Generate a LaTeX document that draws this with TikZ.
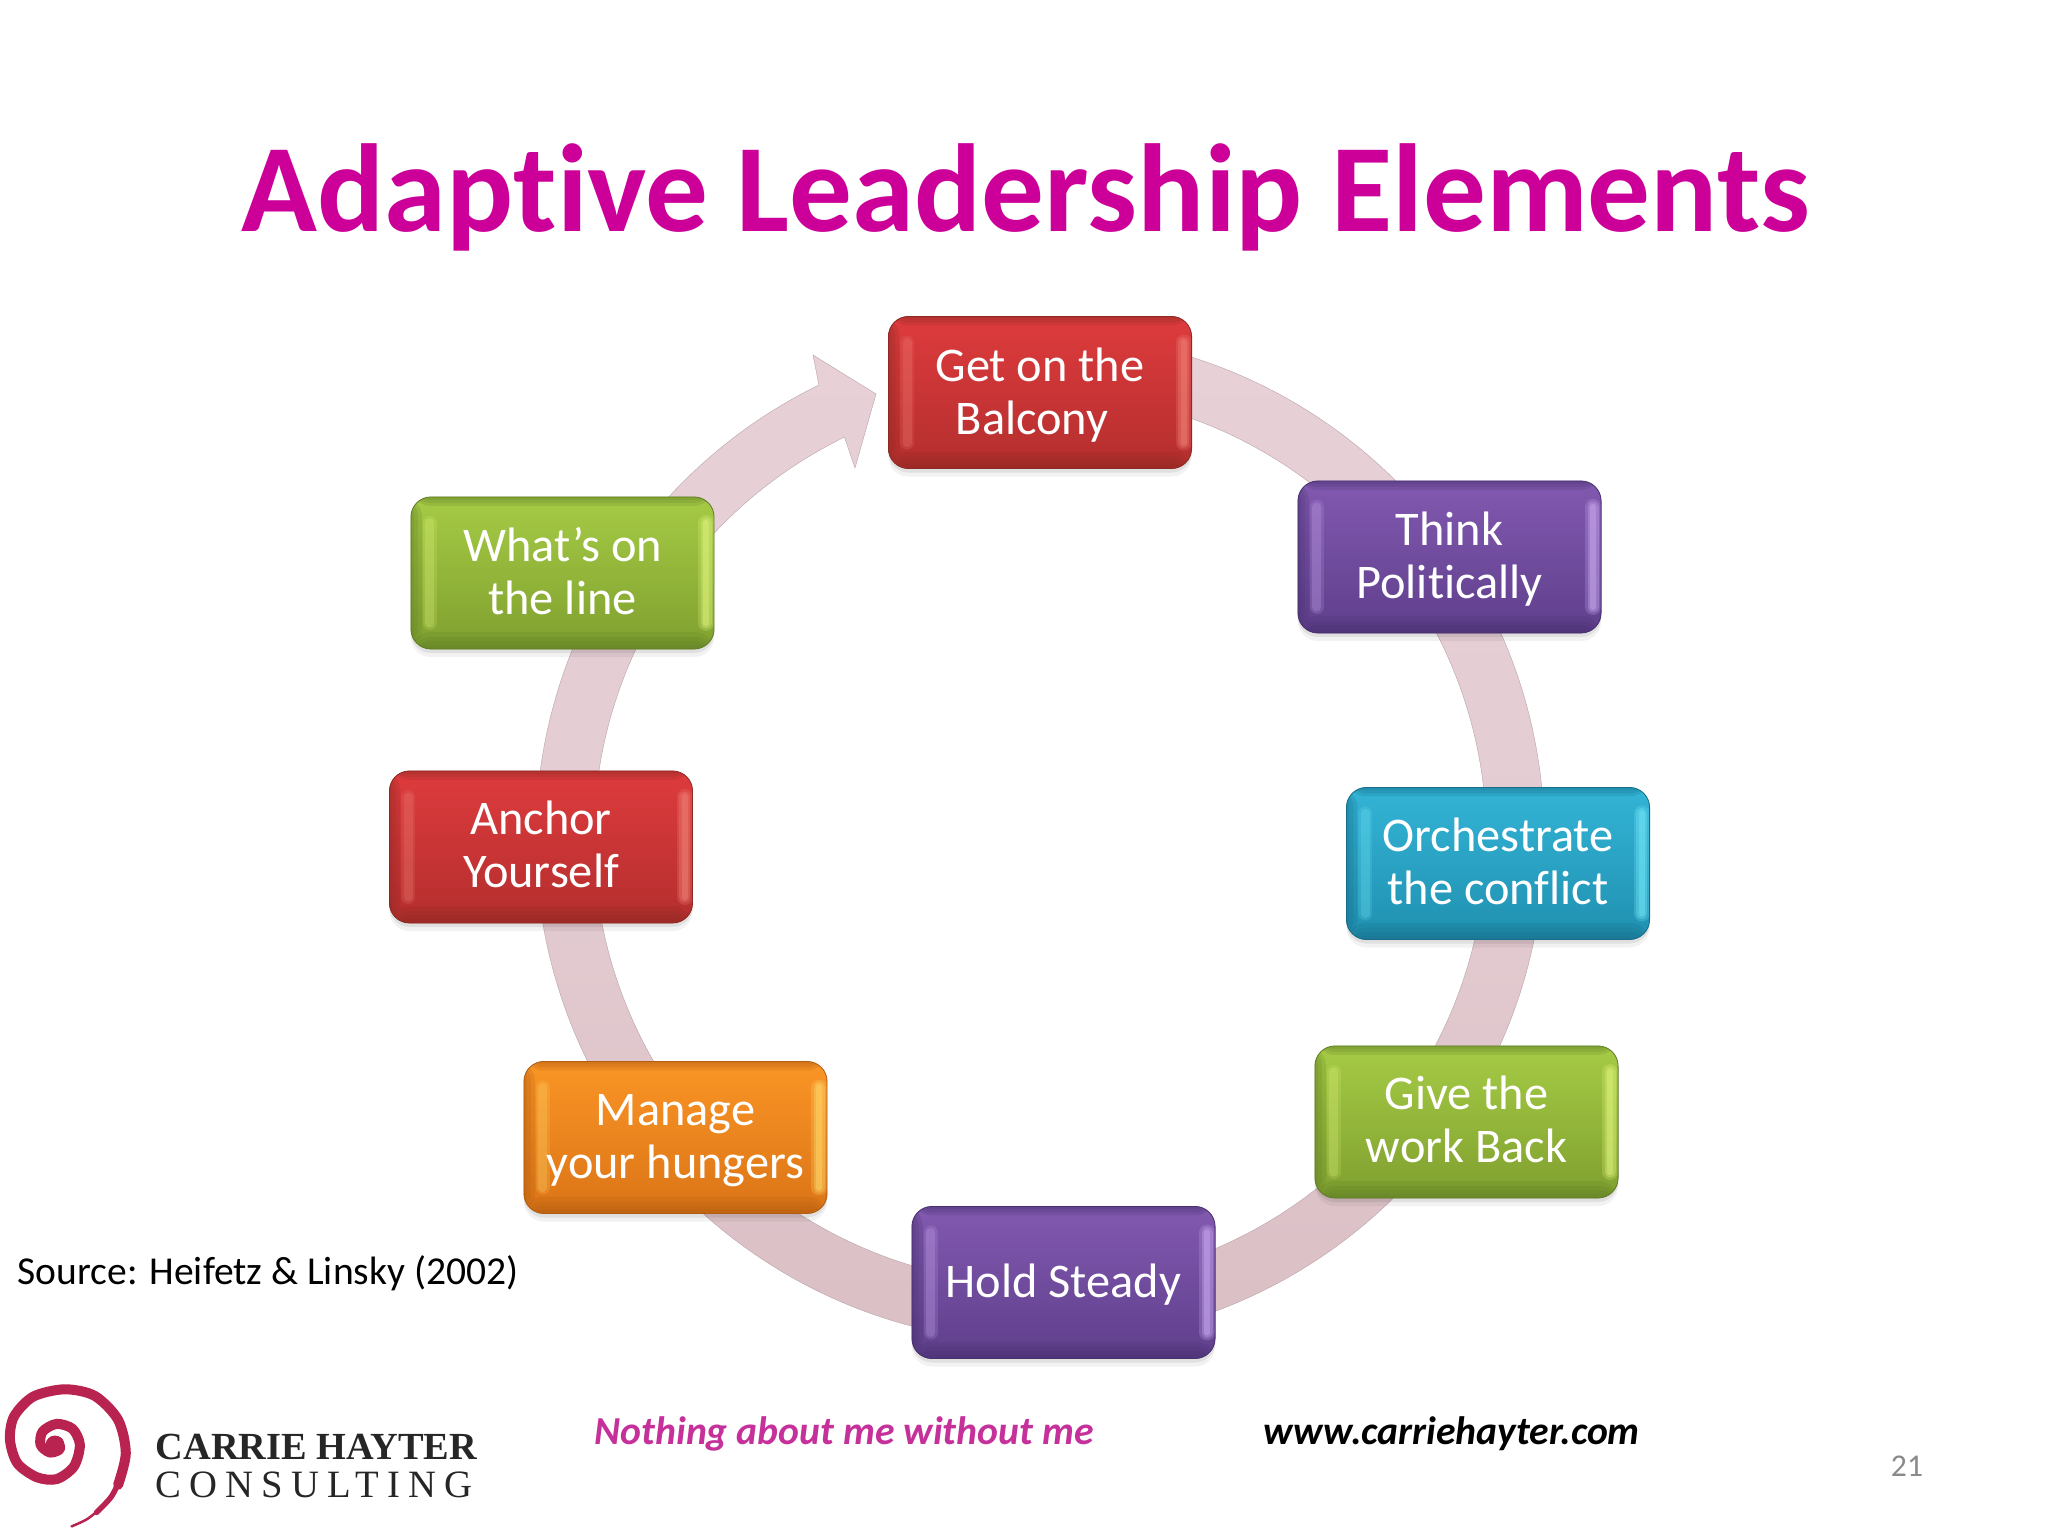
\documentclass[tikz,border=0pt]{standalone}
\usepackage{fontspec}
\setmainfont[Ligatures=NoCommon]{Carlito}
\newfontfamily\logofont{Liberation Serif}
\usetikzlibrary{calc}
\definecolor{titlemag}{HTML}{CC0099}
\definecolor{sloganmag}{HTML}{C5309A}
\definecolor{ringedge}{HTML}{B9A3A8}
\definecolor{pagenum}{HTML}{8A8A8A}
\definecolor{spiralred}{HTML}{B8234F}
\definecolor{logoink}{HTML}{262626}
\definecolor{redT}{HTML}{DE3B3D}\definecolor{redB}{HTML}{B42E2E}\definecolor{redE}{HTML}{8E2A24}\definecolor{redS}{HTML}{EE7F74}
\definecolor{purT}{HTML}{8259B0}\definecolor{purB}{HTML}{5F3F8C}\definecolor{purE}{HTML}{47306E}\definecolor{purS}{HTML}{C9A8F0}
\definecolor{bluT}{HTML}{33B4D6}\definecolor{bluB}{HTML}{2090B0}\definecolor{bluE}{HTML}{176C88}\definecolor{bluS}{HTML}{6FE4F6}
\definecolor{grnT}{HTML}{A6CB45}\definecolor{grnB}{HTML}{7FA02F}\definecolor{grnE}{HTML}{5F7C26}\definecolor{grnS}{HTML}{DDF27A}
\definecolor{ornT}{HTML}{FA9526}\definecolor{ornB}{HTML}{DB7416}\definecolor{ornE}{HTML}{B05C12}\definecolor{ornS}{HTML}{FFD768}
\definecolor{ringbot}{HTML}{BDA5A8}
\definecolor{ringlow}{HTML}{DABFC4}
\definecolor{ringmid}{HTML}{E3CCD2}
\definecolor{ringtop}{HTML}{EBD5DA}
\pgfdeclareverticalshading{ringshade}{100bp}{
  color(0bp)=(ringbot);color(12bp)=(ringbot);color(24bp)=(ringlow);color(50bp)=(ringmid);color(100bp)=(ringtop)}
\newcommand{\tilebevel}[2]{%
  \foreach \h in {.03cm,.06cm,.09cm}{
    \fill[#2,opacity=.2] (path picture bounding box.north west) rectangle ([yshift=-\h]path picture bounding box.north east);}
  \foreach \h in {.04cm,.08cm,.12cm,.17cm}{
    \fill[#2,opacity=.2] (path picture bounding box.south west) rectangle ([yshift=\h]path picture bounding box.south east);}
  \foreach \w in {.03cm,.07cm,.11cm}{
    \fill[#2,opacity=.2] (path picture bounding box.south west) rectangle ([xshift=\w]path picture bounding box.north west);}
  % left strip: inset, faint
  \foreach \lw/\op in {.14cm/.18,.09cm/.25}{
    \draw[#1,line width=\lw,opacity=\op,line cap=round]
      ([xshift=.19cm,yshift=-.26cm]path picture bounding box.north west) -- ([xshift=.19cm,yshift=.26cm]path picture bounding box.south west);}
  % right strip: on the edge, bright
  \foreach \lw/\op in {.16cm/.25,.11cm/.35,.06cm/.45}{
    \draw[#1,line width=\lw,opacity=\op,line cap=round]
      ([xshift=-.08cm,yshift=-.26cm]path picture bounding box.north east) -- ([xshift=-.08cm,yshift=.26cm]path picture bounding box.south east);}
}
\newcommand{\tiletext}[2][-.04cm]{\raisebox{#1}[\height][\depth]{\begin{tabular}{@{}c@{}}#2\end{tabular}}}
\tikzset{
  x=0.01cm,y=0.01cm,
  tile/.style n args={4}{
    rectangle,rounded corners=.2cm,minimum width=3.03cm,minimum height=1.52cm,
    inner sep=0pt,align=center,text=white,
    font=\fontsize{13.75}{15.1}\selectfont,
    preaction={fill=black,opacity=.07,transform canvas={yshift=-.04cm}},
    preaction={fill=black,opacity=.05,transform canvas={yshift=-.08cm}},
    top color=#1,bottom color=#2,draw=#3,line width=.008cm,
    path picture={\tilebevel{#4}{#3}}
  },
  redtile/.style={tile={redT}{redB}{redE}{redS}},
  purtile/.style={tile={purT}{purB}{purE}{purS}},
  blutile/.style={tile={bluT}{bluB}{bluE}{bluS}},
  grntile/.style={tile={grnT}{grnB}{grnE}{grnS}},
  orntile/.style={tile={ornT}{ornB}{ornE}{ornS}},
  titletext/.style={text=titlemag,inner sep=0pt,anchor=base,font=\fontsize{35.6}{42}\selectfont\bfseries},
  foottext/.style={inner sep=0pt,anchor=base west,font=\fontsize{11.28}{13}\selectfont\bfseries\itshape},
  ringshape/.style={shading=ringshade,draw=ringedge,line width=.004cm},
  logotop/.style={text=logoink,inner sep=0pt,anchor=base west,font=\logofont\fontsize{10.9}{13}\selectfont\bfseries},
  logobot/.style={text=logoink,inner sep=0pt,anchor=base west,font=\logofont\fontsize{11}{13}\selectfont\addfontfeature{LetterSpace=21}},
}
\begin{document}
\begin{tikzpicture}
\useasboundingbox (0,0) rectangle (2048,1536);
\fill[white] (0,0) rectangle (2048,1536);
\node[titletext] (title) at (1026,1304) {Adaptive Leadership Elements};
% ring arrow
\coordinate (ringc) at (1040,698);
\coordinate (headout) at (813,1181);
\coordinate (headtip) at (876,1142);
\coordinate (headin) at (855,1068);
\path[ringshape]
  ([shift={(ringc)}]90:504) arc[start angle=90,end angle=-244,radius=5.04cm]
  -- (headout) -- (headtip) -- (headin)
  -- ([shift={(ringc)}]116:446) arc[start angle=-244,end angle=90,radius=4.46cm] -- cycle;
% tiles
\node[redtile] (balcony) at (1040,1143.5) {\tiletext[-.05cm]{Get on the\\Balcony\hspace*{.16cm}}};
\node[purtile] (think) at (1449.5,979) {\tiletext{Think\\Politically}};
\node[blutile] (orch) at (1498,672.5) {\tiletext{Orchestrate\\the conflict}};
\node[grntile] (give) at (1466.5,414) {\tiletext[-.03cm]{Give the\\work Back}};
\node[purtile] (hold) at (1063.5,253.5) {\tiletext{Hold Steady}};
\node[orntile] (hungers) at (675.5,398.5) {\tiletext{Manage\\your hungers}};
\node[redtile] (anchor) at (541,689) {\tiletext[-.03cm]{Anchor\\Yourself}};
\node[grntile] (whats) at (562.5,963) {\tiletext{What’s on\\the line}};
% texts
\node[inner sep=0pt,anchor=base west,font=\fontsize{11.25}{13}\selectfont] (source) at (17,1536-1285) {Source: Heifetz \& Linsky (2002)};
\node[foottext,text=sloganmag] (slogan) at (594,1536-1445) {Nothing about me without me};
\node[foottext,text=black] (web) at (1263,1536-1445) {www.carriehayter.com};
\node[inner sep=0pt,anchor=center,text=pagenum,font=\fontsize{9}{11}\selectfont] (pagenumber) at (1907,1536-1466) {21};
% logo
\begin{scope}[shift={(0,176)},x=0.003333cm,y=-0.003333cm,line cap=round,line join=round]
  \draw[spiralred,line width=.025cm] plot[smooth] coordinates {(215,500)(262,478)(310,440)};
  \draw[spiralred,line width=.055cm] plot[smooth] coordinates {(290,458)(335,410)(365,350)};
  \draw[spiralred,line width=.1cm] plot[smooth] coordinates {(355,375)(378,280)(355,180)(285,108)(195,88)(100,110)(42,170)(30,240)(52,310)(110,352)(170,358)(222,320)(240,255)(218,207)(170,192)(128,215)(122,255)(150,278)(180,268)(175,245)};
  \fill[spiralred] (165,255) circle[radius=28];
\end{scope}
\node[logotop] (logoa) at (155,1536-1460) {CARRIE HAYTER};
\node[logobot] (logob) at (155,1536-1498) {CONSULTING};
\end{tikzpicture}
\end{document}
